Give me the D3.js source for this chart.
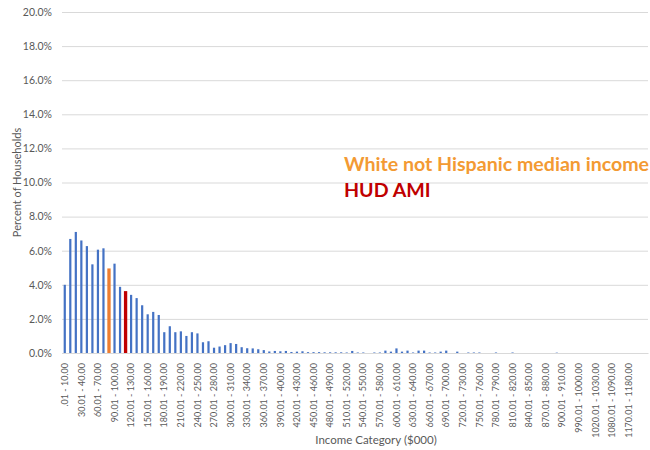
<!DOCTYPE html>
<html>
<head>
<meta charset="utf-8">
<script src="https://cdn.jsdelivr.net/npm/d3@7"></script>
<style>
  html, body { margin: 0; padding: 0; background: #fff; }
  svg { display: block; font-family: Lato, "Open Sans", sans-serif; }
</style>
</head>
<body>
<svg id="chart" width="650" height="450"></svg>
<script>
// Income brackets ($000), one per bar
const categories = [
  ".01 - 10.00", "10.01 - 20.00", "20.01 - 30.00", "30.01 - 40.00", "40.01 - 50.00",
  "50.01 - 60.00", "60.01 - 70.00", "70.01 - 80.00", "80.01 - 90.00", "90.01 - 100.00",
  "100.01 - 110.00", "110.01 - 120.00", "120.01 - 130.00", "130.01 - 140.00", "140.01 - 150.00",
  "150.01 - 160.00", "160.01 - 170.00", "170.01 - 180.00", "180.01 - 190.00", "190.01 - 200.00",
  "200.01 - 210.00", "210.01 - 220.00", "220.01 - 230.00", "230.01 - 240.00", "240.01 - 250.00",
  "250.01 - 260.00", "260.01 - 270.00", "270.01 - 280.00", "280.01 - 290.00", "290.01 - 300.00",
  "300.01 - 310.00", "310.01 - 320.00", "320.01 - 330.00", "330.01 - 340.00", "340.01 - 350.00",
  "350.01 - 360.00", "360.01 - 370.00", "370.01 - 380.00", "380.01 - 390.00", "390.01 - 400.00",
  "400.01 - 410.00", "410.01 - 420.00", "420.01 - 430.00", "430.01 - 440.00", "440.01 - 450.00",
  "450.01 - 460.00", "460.01 - 470.00", "470.01 - 480.00", "480.01 - 490.00", "490.01 - 500.00",
  "500.01 - 510.00", "510.01 - 520.00", "520.01 - 530.00", "530.01 - 540.00", "540.01 - 550.00",
  "550.01 - 560.00", "560.01 - 570.00", "570.01 - 580.00", "580.01 - 590.00", "590.01 - 600.00",
  "600.01 - 610.00", "610.01 - 620.00", "620.01 - 630.00", "630.01 - 640.00", "640.01 - 650.00",
  "650.01 - 660.00", "660.01 - 670.00", "670.01 - 680.00", "680.01 - 690.00", "690.01 - 700.00",
  "700.01 - 710.00", "710.01 - 720.00", "720.01 - 730.00", "730.01 - 740.00", "740.01 - 750.00",
  "750.01 - 760.00", "760.01 - 770.00", "770.01 - 780.00", "780.01 - 790.00", "790.01 - 800.00",
  "800.01 - 810.00", "810.01 - 820.00", "820.01 - 830.00", "830.01 - 840.00", "840.01 - 850.00",
  "850.01 - 860.00", "860.01 - 870.00", "870.01 - 880.00", "880.01 - 890.00", "890.01 - 900.00",
  "900.01 - 910.00", "930.01 - 940.00", "950.01 - 960.00", "990.01 - 1000.00", "1000.01 - 1010.00",
  "1010.01 - 1020.00", "1020.01 - 1030.00", "1040.01 - 1050.00", "1060.01 - 1070.00", "1080.01 - 1090.00",
  "1100.01 - 1110.00", "1130.01 - 1140.00", "1170.01 - 1180.00", "1200.01 - 1210.00", "1250.01 - 1260.00",
  "1490.01 - 1500.00"
];

// Percent of households in each bracket
const householdPct = [
  4.00, 6.69, 7.10, 6.60, 6.27, 5.20, 6.06, 6.14, 4.96, 5.24,
  3.88, 3.63, 3.41, 3.22, 2.80, 2.27, 2.41, 2.23, 1.22, 1.57,
  1.22, 1.27, 1.00, 1.22, 1.15, 0.63, 0.69, 0.31, 0.38, 0.46,
  0.58, 0.53, 0.34, 0.28, 0.27, 0.22, 0.17, 0.09, 0.12, 0.10,
  0.12, 0.06, 0.08, 0.10, 0.05, 0.05, 0.05, 0.04, 0.04, 0.04,
  0.04, 0.03, 0.12, 0.03, 0.03, 0.00, 0.03, 0.03, 0.14, 0.08,
  0.27, 0.08, 0.14, 0.03, 0.14, 0.14, 0.03, 0.03, 0.08, 0.14,
  0.00, 0.08, 0.00, 0.03, 0.03, 0.03, 0.00, 0.00, 0.03, 0.00,
  0.00, 0.03, 0.00, 0.00, 0.00, 0.00, 0.00, 0.00, 0.00, 0.02,
  0.00, 0.00, 0.00, 0.00, 0.00, 0.00, 0.00, 0.00, 0.00, 0.00,
  0.00, 0.00, 0.00, 0.00, 0.00, 0.00
];

// Brackets holding the two reference incomes
const whiteMedianBracket = "80.01 - 90.00";
const hudAmiBracket = "110.01 - 120.00";

// Every third bracket is labelled on the axis (the last slot falls off the edge)
const xTickLabels = categories.filter((c, i) => i % 3 === 0 && i < 105);
const yTicks = [0, 2, 4, 6, 8, 10, 12, 14, 16, 18, 20];

const colors = { bar: "#4472C4", median: "#ED7D31", ami: "#C00000",
                 medianText: "#F39A33", grid: "#D9D9D9", text: "#595959" };

const margin = { left: 62, right: 2, top: 12, bottom: 97 };
const W = 650, H = 450;
const svg = d3.select("#chart");

const x = d3.scaleBand().domain(categories).range([margin.left, W - margin.right]);
const y = d3.scaleLinear().domain([0, 20]).range([H - margin.bottom, margin.top]);

// Gridlines and y tick labels
const yAxis = d3.axisLeft(y).tickValues(yTicks).tickSize(-(W - margin.right - margin.left))
  .tickPadding(10).tickFormat(d => d.toFixed(1) + "%");
const gy = svg.append("g").attr("transform", `translate(${margin.left},0)`).call(yAxis);
gy.select(".domain").remove();
gy.selectAll(".tick line").attr("stroke", colors.grid).attr("stroke-width", 1);
gy.selectAll(".tick text").attr("fill", colors.text).attr("font-size", 10.5)
  .attr("font-family", "Lato, sans-serif");

// Bars
const bw = x.bandwidth();
const isRef = c => c === whiteMedianBracket || c === hudAmiBracket;
svg.append("g").selectAll("rect").data(categories.map((c, i) => ({ c, v: householdPct[i] })))
  .join("rect")
  .attr("x", d => x(d.c) + (bw - (isRef(d.c) ? bw * 0.6 : bw * 0.4)) / 2)
  .attr("width", d => isRef(d.c) ? bw * 0.6 : bw * 0.4)
  .attr("y", d => y(d.v))
  .attr("height", d => y(0) - y(d.v))
  .attr("fill", d => d.c === whiteMedianBracket ? colors.median
                   : d.c === hudAmiBracket ? colors.ami : colors.bar);

// X axis: baseline and bracket labels
const xAxis = d3.axisBottom(x).tickSize(0).tickPadding(0).tickValues(xTickLabels);
const gx = svg.append("g").attr("transform", `translate(0,${y(0)})`).call(xAxis);
gx.select(".domain").attr("stroke", colors.grid);
gx.selectAll(".tick text")
  .attr("fill", colors.text).attr("font-size", 9).attr("font-family", "Lato, sans-serif")
  .attr("text-anchor", "end").attr("transform", "rotate(-90)")
  .attr("x", -10).attr("y", 0).attr("dy", "0.35em");

// Axis titles
svg.append("text").attr("transform", `translate(17,${(y(0) + y(20)) / 2}) rotate(-90)`)
  .attr("text-anchor", "middle").attr("dy", "0.35em")
  .attr("fill", colors.text).attr("font-size", 11).text("Percent of Households");
svg.append("text").attr("x", 376).attr("y", 444)
  .attr("text-anchor", "middle").attr("fill", colors.text).attr("font-size", 11.5)
  .text("Income Category ($000)");

// Reference income annotations
svg.append("text").attr("x", 344).attr("y", 171).attr("fill", colors.medianText)
  .attr("font-size", 19.6).attr("font-weight", "bold").text("White not Hispanic median income");
svg.append("text").attr("x", 344).attr("y", 197).attr("fill", colors.ami)
  .attr("font-size", 19.6).attr("font-weight", "bold").text("HUD AMI");
</script>
</body>
</html>
